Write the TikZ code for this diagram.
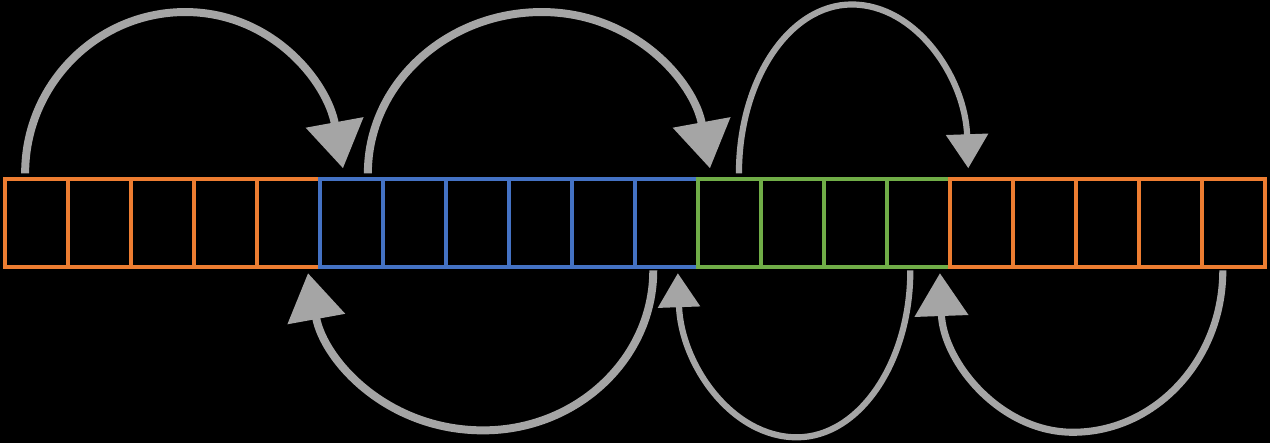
\documentclass[tikz,border=0pt]{standalone}
\usepackage{xcolor}
\usepackage{tikz}
\usetikzlibrary{calc,arrows.meta}
\definecolor{bg}{HTML}{000000}
\definecolor{orng}{HTML}{ED7D31}
\definecolor{blu}{HTML}{4472C4}
\definecolor{grn}{HTML}{70AD47}
\definecolor{hopgray}{HTML}{A5A5A5}
\tikzset{
  cell/.style={draw=#1, line width=1.8pt, minimum width=1cm, minimum height=1.4cm, inner sep=0pt, outer sep=0pt},
  hop/.style={draw=hopgray, line width=3.6pt, -{Triangle[width=0.9cm,length=0.74cm]}},
  hopS/.style={draw=hopgray, line width=2.8pt, -{Triangle[width=0.65cm,length=0.54cm]}}
}

\begin{document}
\begin{tikzpicture}
  \fill[bg] (-0.079,-2.794) rectangle (20.079,4.241);
  \useasboundingbox (-0.079,-2.794) rectangle (20.079,4.241);

  % the row of cells
  \foreach \i in {1,...,5}   \node[cell=orng] (c\i) at (\i-0.5,0.7) {};
  \foreach \i in {6,...,11}  \node[cell=blu]  (c\i) at (\i-0.5,0.7) {};
  \foreach \i in {12,...,15} \node[cell=grn]  (c\i) at (\i-0.5,0.7) {};
  \foreach \i in {16,...,20} \node[cell=orng] (c\i) at (\i-0.5,0.7) {};

  % hops above
  \draw[hop] ($(c1.north)+(-0.18,0.09)$) .. controls +(0,1.41) and +(-1.40,0) .. ($(c3.north)+(0.36,2.65)$)
    .. controls +(1.38,0) and +(-0.25,1.37) .. ($(c6.north)+(-0.135,0.17)$);
  \draw[hop] ($(c6.north)+(0.26,0.09)$) .. controls +(0,1.41) and +(-1.52,0) .. ($(c9.north)+(0.02,2.65)$)
    .. controls +(1.47,0) and +(-0.25,1.37) .. ($(c12.north)+(-0.31,0.17)$);
  \draw[hopS] ($(c12.north)+(0.15,0.09)$) .. controls +(0,1.48) and +(-0.99,0) .. ($(c14.north)+(-0.06,2.77)$)
    .. controls +(1.02,0) and +(-0.05,1.44) .. ($(c16.north)+(-0.21,0.17)$);

  % hops below
  \draw[hop] ($(c11.south)+(-0.21,-0.05)$) .. controls +(0,-1.40) and +(1.49,0) .. ($(c8.south)+(0.09,-2.59)$)
    .. controls +(-1.53,0) and +(0.25,-1.38) .. ($(c5.south)+(0.31,-0.095)$);
  \draw[hopS] ($(c15.south)+(-0.13,-0.05)$) .. controls +(0,-1.46) and +(0.99,0) .. ($(c13.south)+(0.07,-2.70)$)
    .. controls +(-1.04,0) and +(0.05,-1.44) .. ($(c11.south)+(0.18,-0.095)$);
  \draw[hop, line width=3.2pt, -{Triangle[width=0.83cm,length=0.68cm]}] ($(c20.south)+(-0.17,-0.05)$)
    .. controls +(0,-1.42) and +(1.31,0) .. ($(c17.south)+(0.45,-2.62)$)
    .. controls +(-1.16,0) and +(0.05,-1.40) .. ($(c15.south)+(0.34,-0.095)$);
\end{tikzpicture}
\end{document}
